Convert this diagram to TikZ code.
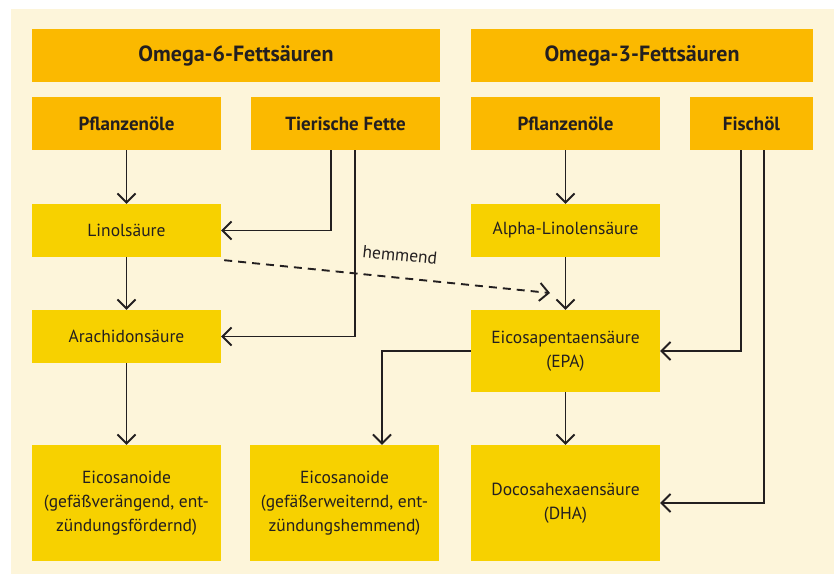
\documentclass[tikz,border=0pt]{standalone}
\usepackage{fontspec}
\setmainfont{PT Sans}
\usetikzlibrary{arrows.meta,calc}
\definecolor{cream}{HTML}{FDF5DA}
\definecolor{hdr}{HTML}{FBB900}
\definecolor{yel}{HTML}{F7D100}
\definecolor{ink}{HTML}{231F20}
\begin{document}
\begin{tikzpicture}[x=1pt,y=-1pt,
  box/.style={fill=yel,inner sep=0pt,minimum width=189pt,align=center,text=ink,font=\fontsize{17.5}{24}\selectfont},
  hbox/.style={fill=hdr,inner sep=0pt,minimum height=53pt,text=ink,font=\fontsize{19}{24}\selectfont\bfseries},
  tbox/.style={hbox,font=\fontsize{22}{24}\selectfont\bfseries},
  conn/.style={draw=ink,line width=1.9pt,-{Straight Barb[length=9pt,width=18pt,line width=1.9pt]}},
]
\useasboundingbox (0,0) rectangle (839,574);
\fill[white] (0,0) rectangle (839,574);
\fill[cream] (11,9) rectangle (834,574);
% headers
\node[tbox,minimum width=408pt] (o6) at (236,55.5) {Omega-6-Fettsäuren};
\node[tbox,minimum width=342pt] (o3) at (642,55.5) {Omega-3-Fettsäuren};
\node[hbox,minimum width=189pt] (p6) at (126.5,123.5) {Pflanzenöle};
\node[hbox,minimum width=189pt] (tf) at (345.5,123.5) {Tierische Fette};
\node[hbox,minimum width=189pt] (p3) at (565.5,123.5) {Pflanzenöle};
\node[hbox,minimum width=123pt] (fo) at (751.5,123.5) {Fischöl};
% yellow boxes
\node[box,minimum height=53pt] (ls) at (126.5,230.5) {Linolsäure};
\node[box,minimum height=53pt] (aa) at (126.5,336.5) {Arachidonsäure};
\node[box,minimum height=53pt] (al) at (565.5,230.5) {Alpha-Linolensäure};
\node[box,minimum height=82pt] (epa) at (565.5,351) {Eicosapentaensäure\\(EPA)};
\node[box,minimum height=116pt] (e1) at (126.5,503) {Eicosanoide\\(gefäßverängend, ent-\\zündungsfördernd)};
\node[box,minimum height=116pt] (e2) at (344.5,503) {Eicosanoide\\(gefäßerweiternd, ent-\\zündungshemmend)};
\node[box,minimum height=116pt] (dha) at (565.5,503) {Docosahexaensäure\\(DHA)};
% connectors
\draw[conn] (p6.south) -- (ls.north);
\draw[conn] (ls.south) -- (aa.north);
\draw[conn] (aa.south) -- (e1.north);
\draw[conn] ([xshift=-14.5pt]tf.south) |- (ls.east);
\draw[conn] ([xshift=9.5pt]tf.south) |- (aa.east);
\draw[conn] (p3.south) -- (al.north);
\draw[conn] (al.south) -- (epa.north);
\draw[conn] (epa.south) -- (dha.north);
\draw[conn] (epa.west) -| ([xshift=37.5pt]e2.north);
\draw[conn] ([xshift=-10.5pt]fo.south) |- (epa.east);
\draw[conn] ([xshift=12.5pt]fo.south) |- (dha.east);
\coordinate (dashend) at (550,293);
\draw[conn,dash pattern=on 8pt off 6pt] ([xshift=3pt,yshift=-3pt]ls.south east) -- (dashend);
\node[text=ink,font=\fontsize{17.5}{20}\selectfont,rotate=-6,inner sep=0pt] (hm) at (400,255) {hemmend};
\end{tikzpicture}
\end{document}
